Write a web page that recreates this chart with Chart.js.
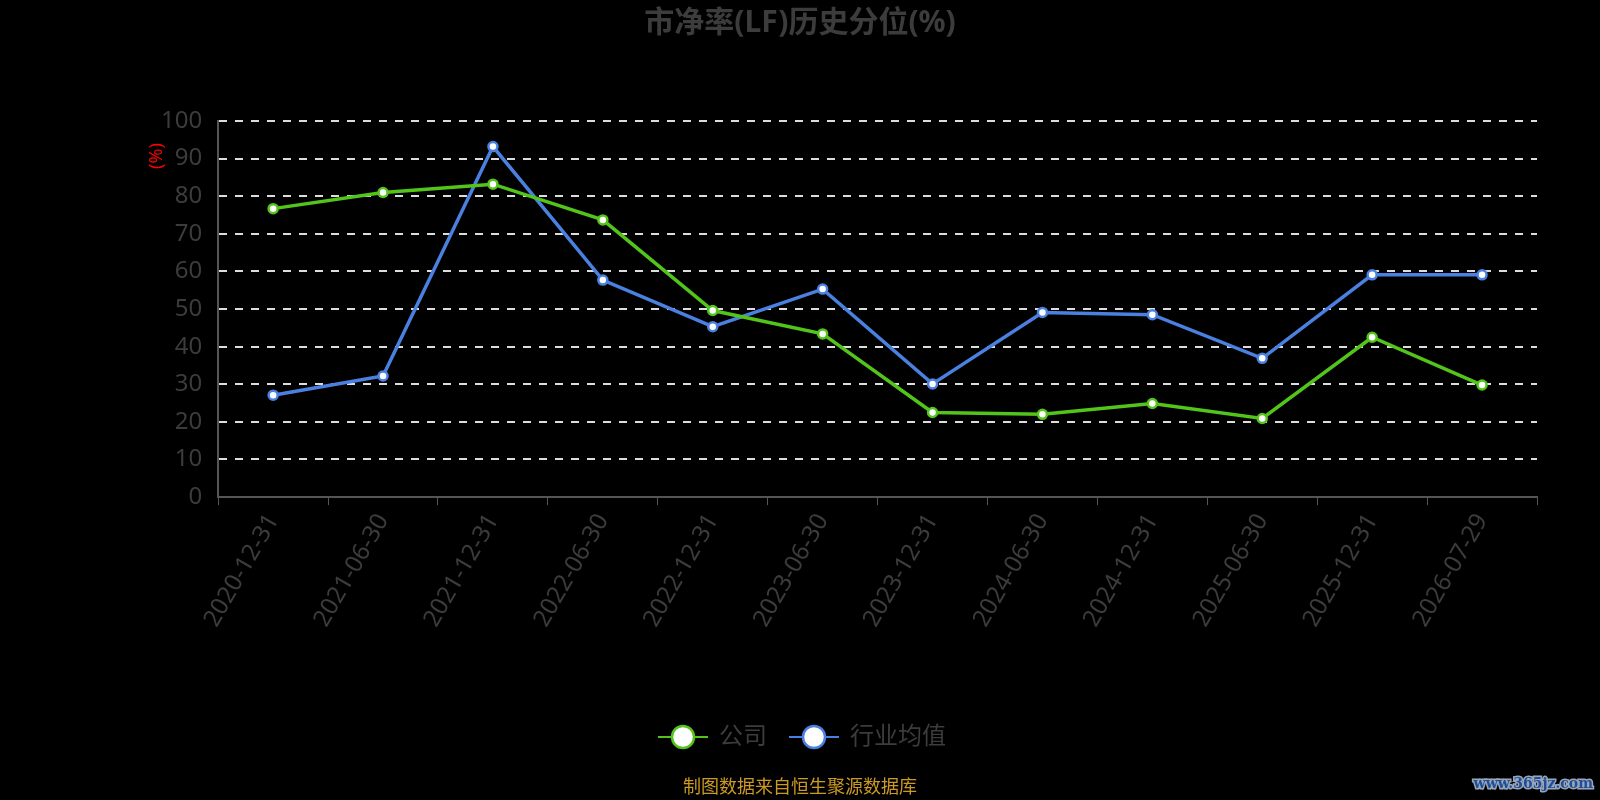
<!DOCTYPE html>
<html lang="zh-CN">
<head>
<meta charset="UTF-8">
<title>市净率(LF)历史分位(%)</title>
<script src="https://cdn.jsdelivr.net/npm/chart.js"></script>
<style>
  html, body { margin: 0; padding: 0; background: #000; }
  #wrap { width: 1600px; height: 800px; }
</style>
</head>
<body>
<div id="wrap"><canvas id="pb-chart" width="1600" height="800"></canvas></div>
<script>
// report dates
const dates = ['2020-12-31', '2021-06-30', '2021-12-31', '2022-06-30', '2022-12-31', '2023-06-30',
               '2023-12-31', '2024-06-30', '2024-12-31', '2025-06-30', '2025-12-31', '2026-07-29'];
// percentile of company PB
const company = [76.7, 81.0, 83.2, 73.7, 49.6, 43.4, 22.5, 22.0, 24.9, 20.9, 42.5, 29.8];
// industry average percentile
const industry = [27.1, 32.2, 93.2, 57.7, 45.3, 55.3, 30.1, 49.1, 48.5, 36.9, 59.1, 59.1];
const yTicks = [0, 10, 20, 30, 40, 50, 60, 70, 80, 90, 100];

const FONT = "'Noto Sans', 'Noto Sans CJK SC', sans-serif";
const GREY = '#3c3c3c';

// title, y unit, legend with line through the marker, footer, watermark
const decorPlugin = {
    id: 'decor',
    afterDraw(chart) {
        const ctx = chart.ctx;
        ctx.save();
        ctx.textBaseline = 'middle';

        ctx.font = 'bold 30px ' + FONT;
        ctx.fillStyle = GREY;
        ctx.textAlign = 'center';
        ctx.fillText('市净率(LF)历史分位(%)', 800, 23);

        ctx.save();
        ctx.translate(157, 156);
        ctx.rotate(-Math.PI / 2);
        ctx.font = '18px ' + FONT;
        ctx.fillStyle = '#ff0000';
        ctx.fillText('(%)', 0, 0);
        ctx.restore();

        const items = chart.data.datasets.map(d => ({ text: d.label, color: d.borderColor }));
        ctx.font = '24px ' + FONT;
        ctx.textAlign = 'left';
        const lineW = 50, y = 737;
        let x = 658;
        items.forEach(it => {
            ctx.strokeStyle = it.color;
            ctx.lineWidth = 2;
            ctx.beginPath(); ctx.moveTo(x, y); ctx.lineTo(x + lineW, y); ctx.stroke();
            ctx.beginPath(); ctx.arc(x + lineW / 2, y, 11, 0, Math.PI * 2);
            ctx.fillStyle = '#fff'; ctx.fill();
            ctx.lineWidth = 2.5; ctx.stroke();
            x += lineW + 11;
            ctx.fillStyle = GREY;
            ctx.fillText(it.text, x, y);
            x += ctx.measureText(it.text).width + 22;
        });

        ctx.font = '18px ' + FONT;
        ctx.fillStyle = '#cc9a22';
        ctx.textAlign = 'center';
        ctx.fillText('制图数据来自恒生聚源数据库', 800, 788);

        ctx.font = 'bold 14px "DejaVu Serif", serif';
        ctx.textAlign = 'right';
        ctx.lineWidth = 3;
        ctx.strokeStyle = '#9aa6b8';
        ctx.strokeText('www.365jz.com', 1593, 784);
        ctx.fillStyle = '#1f4f9a';
        ctx.fillText('www.365jz.com', 1593, 784);
        ctx.restore();
    }
};

const ctx = document.getElementById('pb-chart').getContext('2d');
new Chart(ctx, {
    type: 'line',
    data: {
        labels: dates,
        datasets: [{
            label: '公司',
            data: company,
            borderColor: '#52c41a',
            backgroundColor: '#fff',
            borderWidth: 3.5,
            pointRadius: 4.5,
            pointBorderWidth: 2.5,
            pointBackgroundColor: '#fff',
            tension: 0
        }, {
            label: '行业均值',
            data: industry,
            borderColor: '#4a80e0',
            backgroundColor: '#fff',
            borderWidth: 3.5,
            pointRadius: 4.5,
            pointBorderWidth: 2.5,
            pointBackgroundColor: '#fff',
            tension: 0
        }]
    },
    options: {
        responsive: false,
        animation: false,
        layout: { padding: { left: 145, right: 63, top: 121, bottom: 164 } },
        plugins: {
            legend: { display: false },
            tooltip: { enabled: false },
            title: { display: false }
        },
        scales: {
            x: {
                offset: true,
                border: { color: '#555', width: 2 },
                grid: { display: true, drawOnChartArea: false, drawTicks: true, tickLength: 8, color: '#555', offset: true },
                ticks: {
                    color: GREY,
                    font: { family: FONT, size: 24 },
                    maxRotation: 60,
                    minRotation: 60,
                    padding: 4
                }
            },
            y: {
                min: 0,
                max: 100,
                afterBuildTicks(axis) { axis.ticks = yTicks.map(v => ({ value: v })); },
                border: { color: '#555', width: 2, display: true, dash: [8, 8] },
                grid: { color: '#ddd', lineWidth: 2, drawTicks: false },
                ticks: {
                    color: GREY,
                    font: { family: FONT, size: 24 },
                    padding: 16
                }
            }
        }
    },
    plugins: [decorPlugin]
});
</script>
</body>
</html>
